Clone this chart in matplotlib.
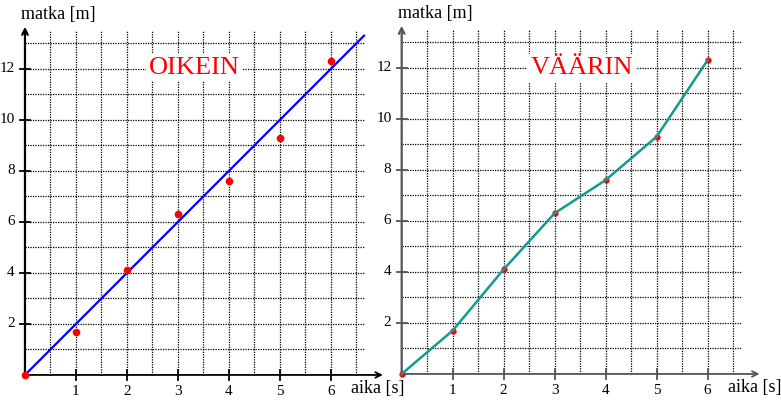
import matplotlib.pyplot as plt
import numpy as np

# measured data: time (s) and distance (m)
aika = [0, 1, 2, 3, 4, 5, 6]
matka = [0, 1.7, 4.1, 6.3, 7.6, 9.3, 12.3]
# fitted line (2 m/s)
fit_x = [0, 6.65]
fit_y = [0, 13.3]

x_ticks = [1, 2, 3, 4, 5, 6]
y_ticks = [2, 4, 6, 8, 10, 12]

W, H = 781, 403
fig = plt.figure(figsize=(W / 100, H / 100), dpi=100)
plt.rcParams['font.family'] = 'Liberation Serif'

XLIM = (-0.49, 7.16)
YLIM = (-1.1, 14.7)


def draw_panel(ax, axis_color):
    ax.set_xlim(*XLIM)
    ax.set_ylim(*YLIM)
    ax.axis('off')
    ax.patch.set_alpha(0)
    dot = (0, (1, 1))
    for gx in np.arange(0.5, 6.6, 0.5):
        ax.plot([gx, gx], [0, 13.5], color='black', lw=0.9, ls=dot, zorder=1)
    for gy in range(1, 14):
        ax.plot([0, 6.65], [gy, gy], color='black', lw=0.9, ls=dot, zorder=1)
    # axes with arrows
    ax.annotate('', xy=(7.02, 0), xytext=(0, 0),
                arrowprops=dict(arrowstyle='->', color=axis_color, lw=1.3,
                                shrinkA=0, shrinkB=0))
    ax.annotate('', xy=(0, 13.65), xytext=(0, 0),
                arrowprops=dict(arrowstyle='->', color=axis_color, lw=1.6,
                                shrinkA=0, shrinkB=0))
    for t in x_ticks:
        ax.plot([t, t], [-0.2, 0.2], color=axis_color, lw=1.3, zorder=2)
        ax.text(t, -0.65, str(t), ha='center', va='center', fontsize=11)
    for t in y_ticks:
        ax.plot([-0.1, 0.1], [t, t], color=axis_color, lw=1.3, zorder=2)
        ax.text(-0.2, t, str(t), ha='right', va='center', fontsize=11)
    ax.text(-0.08, 14.15, 'matka [m]', ha='left', va='center', fontsize=13)
    ax.text(6.4, -0.55, 'aika [s]', ha='left', va='center', fontsize=13)


ax1 = fig.add_axes([0, 0, 390 / W, 1])
draw_panel(ax1, 'black')
ax1.plot(fit_x, fit_y, color='#0000ff', lw=1.6, zorder=3)
ax1.plot(aika, matka, 'o', color='red', ms=4.5, zorder=4)
ax1.text(3.33, 12.05, 'OIKEIN', color='red', fontsize=19, ha='center',
         va='center', zorder=5,
         bbox=dict(facecolor='white', edgecolor='none', pad=2))

ax2 = fig.add_axes([376.7 / W, 1 / H, 390 / W, 1])
draw_panel(ax2, '#555555')
ax2.plot(aika, matka, 'o', color='red', ms=3.5, zorder=3)
ax2.plot(aika, matka, color='#139a92', lw=1.8, zorder=4)
ax2.text(3.53, 12.0, 'VÄÄRIN', color='red', fontsize=19, ha='center',
         va='center', zorder=5,
         bbox=dict(facecolor='white', edgecolor='none', pad=2))

fig.savefig('out.png', dpi=100)
